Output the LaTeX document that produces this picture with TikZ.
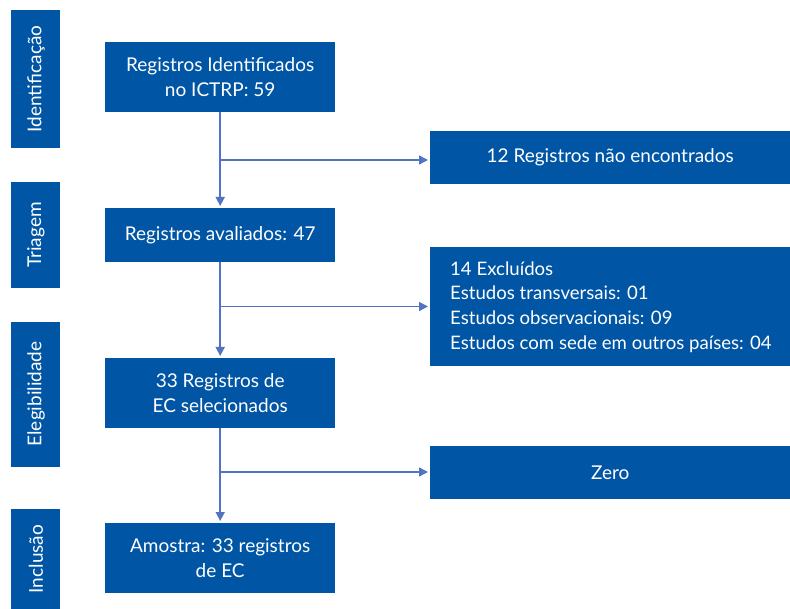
\documentclass[tikz,border=0pt]{standalone}
\usepackage{fontspec}
\setmainfont{Lato}
\usetikzlibrary{arrows.meta}
\definecolor{boxblue}{HTML}{0055A5}
\definecolor{lineblue}{HTML}{5273C2}
\tikzset{
  box/.style={fill=boxblue, text=white, inner sep=0pt, anchor=north west, align=center, font=\fontsize{19}{25}\selectfont},
  plaintext/.style={text=white, inner sep=0pt, align=left, font=\fontsize{18.6}{24.6}\selectfont},
  sidelabel/.style={text=white, rotate=90, font=\fontsize{19}{22}\selectfont},
  conn/.style={draw=lineblue, line width=1.5pt},
  arr/.style={conn, -{Triangle[length=9pt,width=9pt]}, shorten >=2pt},
}
\begin{document}
\begin{tikzpicture}[x=1pt,y=-1pt]
\useasboundingbox (0,0) rectangle (790,609);
% side stage boxes
\fill[boxblue] (11,10) rectangle (60,148);
\node[sidelabel] (sIdent) at (36,79) {Identificação};
\fill[boxblue] (11,182) rectangle (60,288);
\node[sidelabel] (sTri) at (36,235) {Triagem};
\fill[boxblue] (11,322) rectangle (60,466.5);
\node[sidelabel] (sEle) at (36,394) {Elegibilidade};
\fill[boxblue] (11,509) rectangle (60,609);
\node[sidelabel] (sInc) at (36,559) {Inclusão};
% main boxes
\node[box, minimum width=230pt, minimum height=70pt] (m1) at (105,42) {Registros Identificados\\no ICTRP: 59};
\node[box, minimum width=230pt, minimum height=54pt] (m2) at (105,208) {Registros avaliados: 47};
\node[box, minimum width=230pt, minimum height=70pt] (m3) at (105,358) {33 Registros de\\EC selecionados};
\node[box, minimum width=230pt, minimum height=70pt] (m4) at (105,523) {Amostra: 33 registros\\de EC};
% right boxes
\node[box, minimum width=360pt, minimum height=53pt] (r1) at (430,131) {12 Registros não encontrados};
\node[box, minimum width=360pt, minimum height=119pt] (r2) at (430,247) {};
\node[plaintext, anchor=west] (r2t) at (450,307) {14 Excluídos\\Estudos transversais: 01\\Estudos observacionais: 09\\Estudos com sede em outros países: 04};
\node[box, minimum width=360pt, minimum height=53pt] (r3) at (430,446) {Zero};
% branch points
\coordinate (b1) at (m1.south |- 0,160);
\coordinate (b2) at (m2.south |- 0,306.5);
\coordinate (b3) at (m3.south |- 0,472);
% connectors
\draw[arr] (m1.south) -- (m2.north);
\draw[arr] (m2.south) -- (m3.north);
\draw[arr] (m3.south) -- (m4.north);
\draw[arr] (b1) -- (b1 -| r1.west);
\draw[arr] (b2) -- (b2 -| r2.west);
\draw[arr] (b3) -- (b3 -| r3.west);
\end{tikzpicture}
\end{document}
